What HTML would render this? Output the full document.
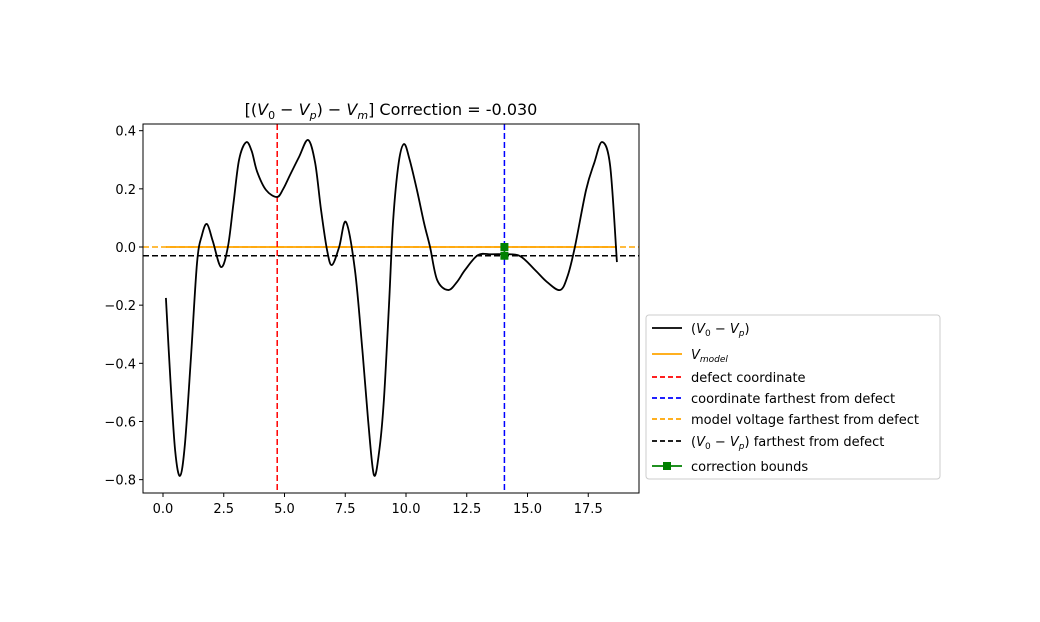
<!DOCTYPE html>
<html><head><meta charset="utf-8"><style>
body{margin:0;background:#fff;}
svg text{font-family:"DejaVu Sans","Liberation Sans",sans-serif;fill:#000;}
</style></head><body>
<svg id="c" width="1040" height="617" xmlns="http://www.w3.org/2000/svg">
<text x="391" y="115" font-size="16" text-anchor="middle">[(<tspan font-style="italic">V</tspan><tspan font-size="11" dy="4">0</tspan><tspan dy="-4"> − </tspan><tspan font-style="italic">V</tspan><tspan font-size="11" dy="4" font-style="italic">p</tspan><tspan dy="-4">) − </tspan><tspan font-style="italic">V</tspan><tspan font-size="11" dy="4" font-style="italic">m</tspan><tspan dy="-4">] Correction = -0.030</tspan></text>
<g id="plot"></g>
<g id="legend">
<rect x="646" y="315" width="294" height="164" rx="3" fill="#fff" stroke="#ccc"/>
</g>
</svg>
<script>
const xs=[0.12,0.3,0.5,0.7,0.9,1.15,1.4,1.6,1.81,2.05,2.39,2.67,2.9,3.13,3.42,3.65,3.87,4.24,4.69,4.95,5.23,5.6,5.97,6.26,6.5,6.75,6.95,7.25,7.53,7.9,8.2,8.44,8.68,8.9,9.09,9.3,9.47,9.7,9.92,10.15,10.45,10.75,10.99,11.28,11.73,12.1,12.43,12.96,13.5,14.03,14.69,15.31,15.8,16.34,16.65,16.95,17.41,17.75,18.07,18.4,18.68];
const ys=[-0.175,-0.45,-0.7,-0.787,-0.68,-0.38,-0.055,0.04,0.079,0.02,-0.069,0.0,0.15,0.3,0.36,0.33,0.26,0.196,0.172,0.2,0.248,0.31,0.368,0.29,0.13,-0.01,-0.062,0.0,0.086,-0.08,-0.35,-0.595,-0.784,-0.7,-0.526,-0.2,0.09,0.29,0.354,0.3,0.196,0.08,0.0,-0.113,-0.148,-0.12,-0.079,-0.028,-0.025,-0.025,-0.031,-0.079,-0.12,-0.148,-0.1,0.0,0.196,0.29,0.361,0.28,-0.052];
const xTicks=[0,2.5,5,7.5,10,12.5,15,17.5];
const yTicks=[0.4,0.2,0,-0.2,-0.4,-0.6,-0.8];
const xTickLabels=["0.0","2.5","5.0","7.5","10.0","12.5","15.0","17.5"];
const yTickLabels=["0.4","0.2","0.0","−0.2","−0.4","−0.6","−0.8"];
const defectX=[4.7];
const farX=[14.05];
const modelV=[0.0];
const farV=[-0.03];
const boundsY=[-0.03,0.0];
const L=143,R=639,T=124,B=493;
const sx=v=>163+v*24.3;
const sy=v=>247-v*290.8;
const NS="http://www.w3.org/2000/svg";
const plot=document.getElementById('plot');
function mk(tag,attrs,parent){const e=document.createElementNS(NS,tag);for(const k in attrs)e.setAttribute(k,attrs[k]);(parent||plot).appendChild(e);return e;}
// ticks
xTicks.forEach((t,i)=>{
const ln=mk('line',{x1:sx(t),x2:sx(t),y1:B,y2:B+4,stroke:'#000'});


const tx=mk('text',{x:sx(t),y:B+20,'font-size':13,'text-anchor':'middle'});tx.textContent=xTickLabels[i];


});
yTicks.forEach((t,i)=>{
const ln=mk('line',{x1:L-4,x2:L,y1:sy(t),y2:sy(t),stroke:'#000'});


const tx=mk('text',{x:L-7,y:sy(t)+5,'font-size':13,'text-anchor':'end'});tx.textContent=yTickLabels[i];


});
// curve (catmull-rom)
const P=xs.map((x,i)=>[sx(x),sy(ys[i])]);
let d=`M${P[0][0]},${P[0][1]}`;
for(let i=0;i<P.length-1;i++){const p0=P[i-1]||P[i],p1=P[i],p2=P[i+1],p3=P[i+2]||P[i+1];
d+=` C${p1[0]+(p2[0]-p0[0])/6},${p1[1]+(p2[1]-p0[1])/6} ${p2[0]-(p3[0]-p1[0])/6},${p2[1]-(p3[1]-p1[1])/6} ${p2[0]},${p2[1]}`;}
const clip=mk('clipPath',{id:'cl'});mk('rect',{x:L,y:T,width:R-L,height:B-T},clip);
const g=mk('g',{'clip-path':'url(#cl)'});
const h1=mk('line',{x1:L,x2:R,y1:sy(modelV[0]),y2:sy(modelV[0]),stroke:'orange','stroke-width':1.5,'stroke-dasharray':'6,3'},g);


const h0=mk('line',{x1:sx(xs[0]),x2:sx(xs[xs.length-1]),y1:sy(modelV[0]),y2:sy(modelV[0]),stroke:'orange','stroke-width':1.8},g);


const h2=mk('line',{x1:L,x2:R,y1:sy(farV[0]),y2:sy(farV[0]),stroke:'#000','stroke-width':1.5,'stroke-dasharray':'6,3'},g);


const vr=mk('line',{x1:sx(defectX[0]),x2:sx(defectX[0]),y1:T,y2:B,stroke:'red','stroke-width':1.5,'stroke-dasharray':'6,3'},g);


const vb=mk('line',{x1:sx(farX[0]),x2:sx(farX[0]),y1:T,y2:B,stroke:'blue','stroke-width':1.5,'stroke-dasharray':'6,3'},g);


const cv=mk('path',{d:d,fill:'none',stroke:'#000','stroke-width':1.8},g);


const gb=mk('line',{x1:sx(farX[0]),x2:sx(farX[0]),y1:sy(boundsY[0]),y2:sy(boundsY[1]),stroke:'green','stroke-width':1.5},g);


boundsY.forEach(v=>{const m=mk('rect',{x:sx(farX[0])-4,y:sy(v)-4,width:8,height:8,fill:'green'},g);

});
const fr=mk('rect',{x:L,y:T,width:R-L,height:B-T,fill:'none',stroke:'#000','stroke-width':1});


// legend
const lg=document.getElementById('legend');
const items=[
{y:328,c:'#000',dash:'',t:'(<tspan font-style="italic">V</tspan><tspan font-size="9" dy="3">0</tspan><tspan dy="-3"> − </tspan><tspan font-style="italic">V</tspan><tspan font-size="9" dy="3" font-style="italic">p</tspan><tspan dy="-3">)</tspan>',n:'legend-v0-vp'},
{y:354,c:'orange',dash:'',t:'<tspan font-style="italic">V</tspan><tspan font-size="9" dy="3" font-style="italic">model</tspan>',n:'legend-v-model'},
{y:377,c:'red',dash:'5,3',t:'defect coordinate',n:'legend-defect-coordinate'},
{y:398,c:'blue',dash:'5,3',t:'coordinate farthest from defect',n:'legend-farthest-coordinate'},
{y:419,c:'orange',dash:'5,3',t:'model voltage farthest from defect',n:'legend-model-farthest'},
{y:441,c:'#000',dash:'5,3',t:'(<tspan font-style="italic">V</tspan><tspan font-size="9" dy="3">0</tspan><tspan dy="-3"> − </tspan><tspan font-style="italic">V</tspan><tspan font-size="9" dy="3" font-style="italic">p</tspan><tspan dy="-3">) farthest from defect</tspan>',n:'legend-v-farthest'},
{y:466,c:'green',dash:'',t:'correction bounds',n:'legend-correction-bounds',m:1}];
items.forEach(it=>{
const e=mk('g',{},lg);


mk('line',{x1:652,x2:682,y1:it.y,y2:it.y,stroke:it.c,'stroke-width':1.8,'stroke-dasharray':it.dash},e);
if(it.m)mk('rect',{x:663,y:it.y-4,width:8,height:8,fill:'green'},e);
const t=mk('text',{x:691,y:it.y+5,'font-size':13},e);t.innerHTML=it.t;
});
</script>
</body></html>
